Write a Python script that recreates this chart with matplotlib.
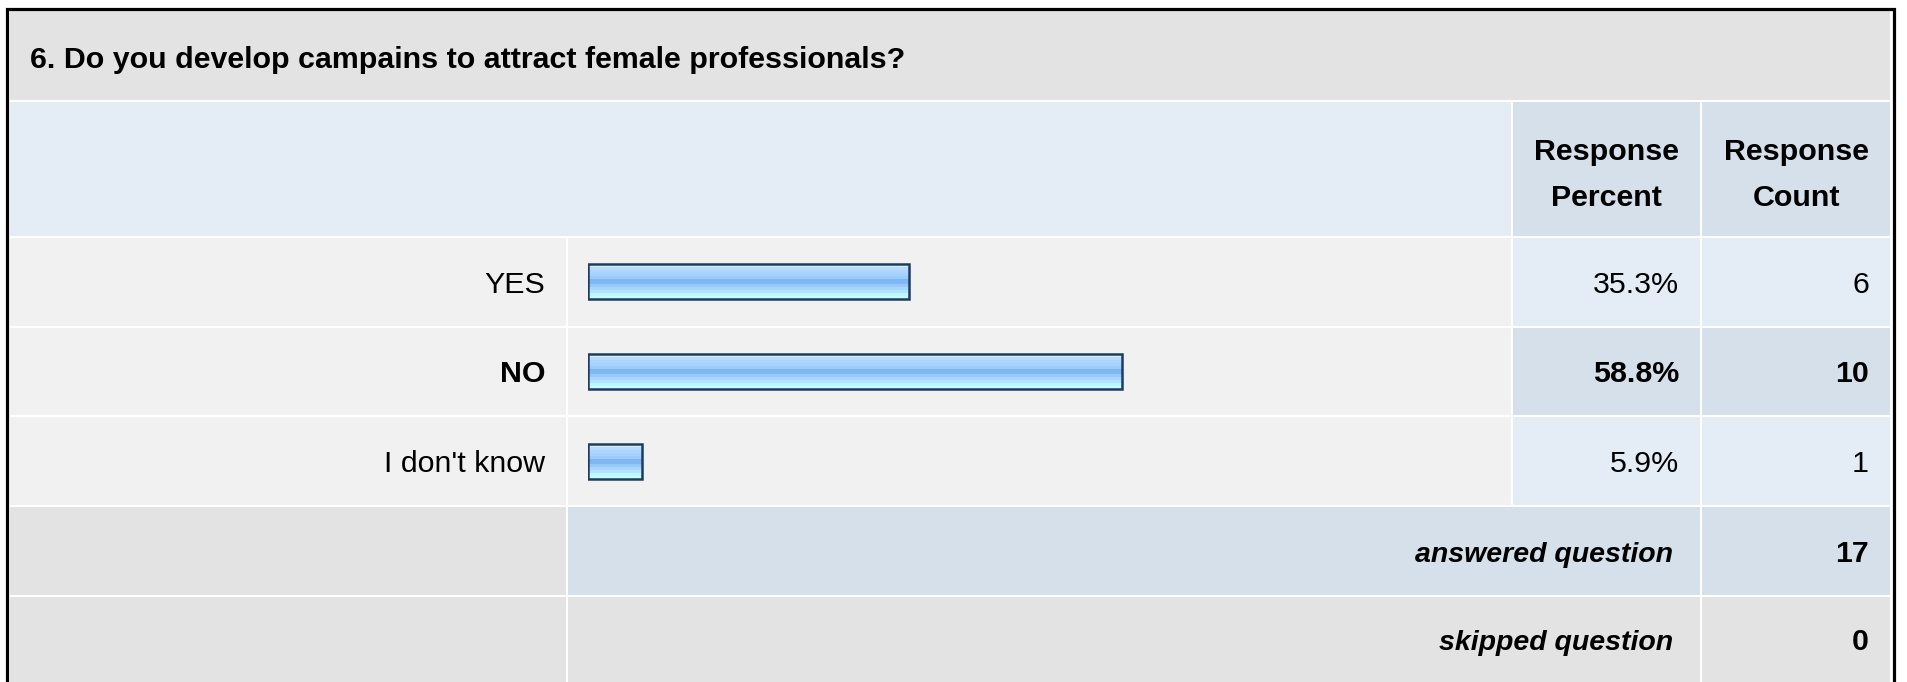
import numpy as np
import matplotlib.pyplot as plt
from matplotlib.patches import Rectangle
from matplotlib.colors import to_rgb

plt.rcParams['font.family'] = ['Liberation Sans', 'DejaVu Sans']

# Survey data
question = "6. Do you develop campains to attract female professionals?"
answers = ["YES", "NO", "I don't know"]
percents = [35.3, 58.8, 5.9]
counts = [6, 10, 1]
answered = 17
skipped = 0

W, H = 1907, 682
fs = 21.9
fig = plt.figure(figsize=(W / 100, H / 100), dpi=100)
ax = fig.add_axes([0, 0, 1, 1])
ax.set_xlim(0, W)
ax.set_ylim(H, 0)
ax.axis('off')

# table layout (pixels)
cols = [9, 567, 1512, 1701, 1891]
rows = [10, 101, 237, 327, 416, 506, 596, 700]

GRAY = '#e3e3e3'
ROWBG = '#f1f1f1'
LIGHT = '#e4ecf6'
BLUE = '#d5e0ea'

ax.add_patch(Rectangle((cols[0], rows[0]), cols[-1] - cols[0], H, color='white', zorder=0))


def cell(c0, c1, r0, r1, color):
    x0, x1 = cols[c0] + 1, cols[c1] - 1
    y0, y1 = rows[r0] + 1, rows[r1] - 1
    ax.add_patch(Rectangle((x0, y0), x1 - x0, y1 - y0, color=color, lw=0, zorder=1))


def label(x, yc, s, ha='right', weight='normal', style='normal', size=fs):
    ax.text(x, yc + 11, s, ha=ha, va='baseline', fontsize=size,
            fontweight=weight, fontstyle=style, color='black', zorder=5)


def mid(r):
    return (rows[r] + rows[r + 1]) / 2


# title and header
cell(0, 4, 0, 1, GRAY)
cell(0, 2, 1, 2, LIGHT)
cell(2, 3, 1, 2, BLUE)
cell(3, 4, 1, 2, BLUE)
ax.text(30, mid(0) + 12, question, ha='left', va='baseline', fontsize=fs,
        fontweight='bold', color='black', zorder=5)
for c, sub in [(2, "Percent"), (3, "Count")]:
    xc = (cols[c] + cols[c + 1]) / 2
    ax.text(xc, 160, "Response", ha='center', va='baseline', fontsize=fs,
            fontweight='bold', color='black', zorder=5)
    ax.text(xc, 206, sub, ha='center', va='baseline', fontsize=fs,
            fontweight='bold', color='black', zorder=5)

# answer rows
top = int(np.argmax(counts))
for i, (a, p, n) in enumerate(zip(answers, percents, counts)):
    r = 2 + i
    cell(0, 1, r, r + 1, ROWBG)
    cell(1, 2, r, r + 1, ROWBG)
    bg = BLUE if i == top else LIGHT
    cell(2, 3, r, r + 1, bg)
    cell(3, 4, r, r + 1, bg)
    w = 'bold' if i == top else 'normal'
    label(cols[1] - 22, mid(r), a, weight=w)
    label(cols[3] - 22, mid(r), f"{p:.1f}%", weight=w)
    label(cols[4] - 22, mid(r), str(n), weight=w)

# summary rows
cell(0, 1, 5, 6, GRAY)
cell(1, 3, 5, 6, BLUE)
cell(3, 4, 5, 6, BLUE)
label(cols[3] - 28, mid(5), "answered question", weight='bold', style='italic', size=20.5)
label(cols[4] - 22, mid(5), str(answered), weight='bold')
cell(0, 1, 6, 7, GRAY)
cell(1, 3, 6, 7, GRAY)
cell(3, 4, 6, 7, GRAY)
label(cols[3] - 28, (rows[6] + H) / 2, "skipped question", weight='bold', style='italic', size=20.5)
label(cols[4] - 22, (rows[6] + H) / 2, str(skipped), weight='bold')

# outer frame
ax.plot([6.5, 6.5, 1893.5, 1893.5], [H + 5, 8.5, 8.5, H + 5], color='black', lw=2.3,
        solid_joinstyle='miter', zorder=6)

# bars in their own axes: 0..100 percent
bx0, bx1 = 588, 1497
bax = fig.add_axes([bx0 / W, 1 - rows[5] / H, (bx1 - bx0) / W, (rows[5] - rows[2]) / H])
bax.axis('off')

grad_hex = ['#d6ecff', '#b8dcff', '#acd6ff', '#a6d2ff', '#9ccaf9', '#80b6f0',
            '#80b8f2', '#98c8fa', '#a8d6ff', '#b0e4ff', '#bff6ff', '#c4ffff']
grad = np.array([[to_rgb(c)] for c in grad_hex])

bars = bax.barh(range(len(answers)), percents, height=0.39, color='none',
                edgecolor='#1e3c62', lw=1.8, zorder=3)
for b in bars:
    x0, y0 = b.get_x(), b.get_y()
    bax.imshow(grad, extent=(x0, x0 + b.get_width(), y0 + b.get_height(), y0),
               aspect='auto', interpolation='nearest', zorder=2)
bax.set_xlim(0, 100)
bax.set_ylim(len(answers) - 0.5, -0.5)

fig.savefig("out.png", dpi=100)
